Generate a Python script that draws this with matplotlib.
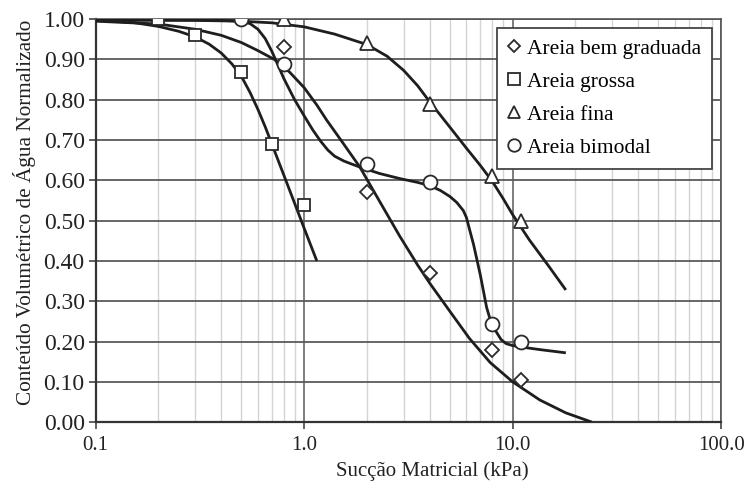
import matplotlib
matplotlib.use("Agg")
import matplotlib.pyplot as plt
from matplotlib.ticker import FixedLocator, LogLocator, NullFormatter, FixedFormatter

plt.rcParams['font.family'] = ['Liberation Serif', 'DejaVu Serif']

# Measured points (suction in kPa, normalized volumetric water content)
bem_x = [0.8, 2.0, 4.0, 8.0, 11.0]
bem_y = [0.93, 0.57, 0.37, 0.18, 0.105]

grossa_x = [0.2, 0.3, 0.5, 0.7, 1.0]
grossa_y = [1.00, 0.96, 0.87, 0.69, 0.54]

fina_x = [0.8, 2.0, 4.0, 8.0, 11.0]
fina_y = [1.00, 0.94, 0.79, 0.61, 0.50]

bimodal_x = [0.5, 0.8, 2.0, 4.0, 8.0, 11.0]
bimodal_y = [1.00, 0.89, 0.64, 0.595, 0.243, 0.20]

# Fitted retention curves
bem_fit_x = [0.1, 0.2, 0.3, 0.4, 0.5, 0.6, 0.72, 0.85, 1.0, 1.15, 1.28, 1.5, 1.85,
             2.3, 2.87, 3.5, 4.0, 5.0, 6.2, 7.8, 10.0, 13.5, 18.0, 24.0]
bem_fit_y = [0.995, 0.988, 0.975, 0.96, 0.942, 0.922, 0.90, 0.869, 0.83, 0.787,
             0.75, 0.70, 0.633, 0.548, 0.462, 0.39, 0.345, 0.275, 0.208, 0.148,
             0.10, 0.055, 0.023, 0.0]

grossa_fit_x = [0.1, 0.15, 0.2, 0.25, 0.3, 0.35, 0.4, 0.45, 0.5, 0.55, 0.6, 0.65,
                0.7, 0.8, 0.9, 1.0, 1.15]
grossa_fit_y = [0.997, 0.992, 0.982, 0.97, 0.956, 0.938, 0.916, 0.889, 0.858,
                0.818, 0.776, 0.733, 0.69, 0.612, 0.543, 0.481, 0.40]

fina_fit_x = [0.1, 0.3, 0.5, 0.7, 1.0, 1.4, 2.0, 2.5, 3.0, 3.5, 4.0, 4.5, 5.0,
              6.0, 7.0, 8.0, 9.0, 10.0, 12.0, 15.0, 18.0]
fina_fit_y = [0.998, 0.997, 0.995, 0.991, 0.981, 0.963, 0.937, 0.908, 0.873,
              0.835, 0.795, 0.762, 0.732, 0.68, 0.637, 0.597, 0.555, 0.515,
              0.453, 0.385, 0.328]

bimodal_fit_x = [0.1, 0.2, 0.3, 0.4, 0.5, 0.55, 0.6, 0.65, 0.7, 0.75, 0.8, 0.9,
                 1.0, 1.1, 1.2, 1.3, 1.4, 1.55, 1.7, 1.85, 2.3, 2.9, 3.5, 4.0,
                 4.5, 5.0, 5.4, 5.8, 6.0, 6.2, 6.5, 7.0, 7.5, 7.8, 8.0, 8.3, 8.8,
                 9.3, 10.0, 10.8, 13.5, 18.0]
bimodal_fit_y = [0.998, 0.998, 0.998, 0.997, 0.995, 0.989, 0.975, 0.952, 0.92,
                 0.885, 0.852, 0.80, 0.76, 0.725, 0.697, 0.675, 0.66, 0.648,
                 0.64, 0.633, 0.617, 0.604, 0.595, 0.587, 0.575, 0.56, 0.545,
                 0.525, 0.508, 0.48, 0.44, 0.365, 0.285, 0.255, 0.243, 0.226,
                 0.205, 0.195, 0.19, 0.187, 0.18, 0.172]

series_labels = ["Areia bem graduada", "Areia grossa", "Areia fina", "Areia bimodal"]
y_ticks = [0.0, 0.1, 0.2, 0.3, 0.4, 0.5, 0.6, 0.7, 0.8, 0.9, 1.0]
y_tick_labels = ["0.00", "0.10", "0.20", "0.30", "0.40", "0.50", "0.60", "0.70",
                 "0.80", "0.90", "1.00"]
x_ticks = [0.1, 1.0, 10.0, 100.0]
x_tick_labels = ["0.1", "1.0", "10.0", "100.0"]

fig = plt.figure(figsize=(7.48, 4.92), dpi=100)
ax = fig.add_axes([0.128, 0.142, 0.836, 0.819])

ax.set_xscale('log')
ax.set_xlim(0.1, 100)
ax.set_ylim(0, 1.0)

major_grid = '#5a5a5a'
minor_grid = '#d4d4d4'
ax.xaxis.set_major_locator(FixedLocator(x_ticks))
ax.xaxis.set_major_formatter(FixedFormatter(x_tick_labels))
ax.xaxis.set_minor_locator(LogLocator(base=10, subs=range(2, 10)))
ax.xaxis.set_minor_formatter(NullFormatter())
ax.yaxis.set_major_locator(FixedLocator(y_ticks))
ax.yaxis.set_major_formatter(FixedFormatter(y_tick_labels))

ax.grid(which='minor', axis='x', color=minor_grid, linewidth=1.0, zorder=0)
ax.grid(which='major', axis='x', color=major_grid, linewidth=1.1, zorder=0.5)
ax.grid(which='major', axis='y', color=major_grid, linewidth=1.3, zorder=0.5)
ax.set_axisbelow(True)

for s in ax.spines.values():
    s.set_color('#555555')
    s.set_linewidth(1.2)
ax.spines['bottom'].set_color('#333333')
ax.spines['bottom'].set_linewidth(1.6)
ax.spines['left'].set_color('#333333')
ax.spines['left'].set_linewidth(1.6)

ax.tick_params(axis='y', which='major', direction='out', length=5, width=1.2,
               color='#444444', labelsize=17, pad=3, labelcolor='#222222')
ax.tick_params(axis='x', which='major', direction='out', length=5, width=1.2,
               color='#444444', labelsize=15, pad=5, labelcolor='#222222')
ax.tick_params(axis='x', which='minor', length=0)

line_kw = dict(color='#1e1e1e', linewidth=2.0, zorder=3, solid_capstyle='butt',
               solid_joinstyle='round')
ax.plot(bem_fit_x, bem_fit_y, **line_kw)
ax.plot(grossa_fit_x, grossa_fit_y, **line_kw)
ax.plot(fina_fit_x, fina_fit_y, **line_kw)
ax.plot(bimodal_fit_x, bimodal_fit_y, **line_kw)

mk = dict(linestyle='none', markerfacecolor='white', markeredgecolor='#2a2a2a',
          markeredgewidth=1.3, zorder=4)
ax.plot(bem_x, bem_y, marker='D', markersize=7, label=series_labels[0], **mk)
ax.plot(grossa_x, grossa_y, marker='s', markersize=9, label=series_labels[1], **mk)
ax.plot(fina_x, fina_y, marker='^', markersize=10, label=series_labels[2], **mk)
ax.plot(bimodal_x, bimodal_y, marker='o', markersize=10, label=series_labels[3], **mk)

leg = ax.legend(loc='upper right', bbox_to_anchor=(0.985, 0.978), borderaxespad=0,
                fontsize=15.5, frameon=True, fancybox=False, handlelength=0.6,
                handletextpad=0.3, labelspacing=0.6, borderpad=0.5,
                markerscale=0.9)
leg.get_frame().set_edgecolor('#444444')
leg.get_frame().set_linewidth(1.3)
leg.get_frame().set_facecolor('white')
leg.get_frame().set_alpha(1.0)
leg.set_zorder(5)

ax.set_xlabel("Sucção Matricial (kPa)", fontsize=15, color='#222222')
ax.xaxis.set_label_coords(0.538, -0.098)
ax.set_ylabel("Conteúdo Volumétrico de Água Normalizado", fontsize=15.3,
              color='#222222')
ax.yaxis.set_label_coords(-0.095, 0.52)

fig.savefig("out.png", dpi=100, facecolor='white')
